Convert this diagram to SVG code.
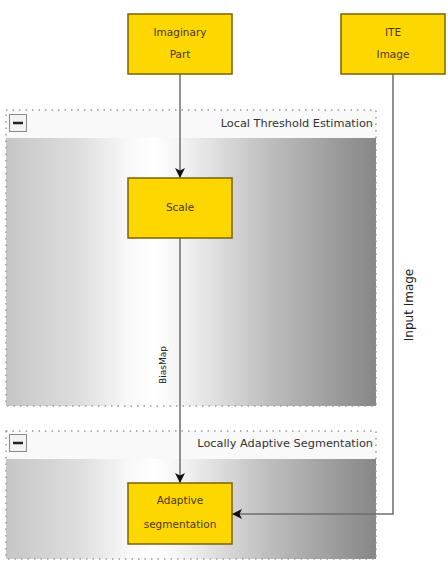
<svg xmlns="http://www.w3.org/2000/svg" width="448" height="561" viewBox="0 0 448 561">
<defs>
<linearGradient id="bg" x1="6" y1="0" x2="376" y2="0" gradientUnits="userSpaceOnUse">
<stop offset="0" stop-color="#c6c6c6"/>
<stop offset="0.2" stop-color="#dedede"/>
<stop offset="0.33" stop-color="#f8f8f8"/>
<stop offset="0.4" stop-color="#ffffff"/>
<stop offset="0.48" stop-color="#f2f2f2"/>
<stop offset="0.7" stop-color="#c0c0c0"/>
<stop offset="1" stop-color="#878787"/>
</linearGradient>
<marker id="arr" viewBox="0 0 10 10" refX="10" refY="5" markerWidth="10" markerHeight="10" markerUnits="userSpaceOnUse" orient="auto">
<path d="M0,0 L10,5 L0,10 L2.5,5 Z" fill="#111"/>
</marker>
<style>
.grp{fill:none;stroke:#9a9a9a;stroke-width:1.5;stroke-dasharray:1.5 5}
.hdr{fill:#f9f9f9}
.btn{fill:#f3f3f3;stroke:#8a8a8a;stroke-width:1}
.minus{stroke:#222;stroke-width:2.5}
.ttl{font-family:"DejaVu Sans",sans-serif;font-size:11.3px;fill:#333;text-anchor:end}
.node rect{fill:#ffd700;stroke:#7a6200;stroke-width:1.5}
.node text{font-family:"DejaVu Sans",sans-serif;font-size:10.5px;fill:#4a3800;text-anchor:middle}
.edge{fill:none;stroke:#6e6e6e;stroke-width:1.5}
.lbl{font-family:"DejaVu Sans",sans-serif;fill:#222;text-anchor:middle}
</style>
</defs>
<rect width="448" height="561" fill="#ffffff"/>
<g id="cluster-local-threshold">
<rect class="hdr" x="6" y="110" width="370" height="28"/>
<rect x="6" y="138" width="370" height="268" fill="url(#bg)"/>
<rect class="grp" x="6" y="110" width="370" height="296"/>
<rect class="btn" x="9.5" y="114.5" width="17" height="17"/>
<line class="minus" x1="13" y1="123" x2="23" y2="123"/>
<text class="ttl" x="373" y="127">Local Threshold Estimation</text>
</g>
<g id="cluster-adaptive-seg">
<rect class="hdr" x="6" y="431" width="370" height="28"/>
<rect x="6" y="459" width="370" height="100" fill="url(#bg)"/>
<rect class="grp" x="6" y="431" width="370" height="128"/>
<rect class="btn" x="9.5" y="434.5" width="17" height="17"/>
<line class="minus" x1="13" y1="443" x2="23" y2="443"/>
<text class="ttl" x="373" y="447">Locally Adaptive Segmentation</text>
</g>
<g id="connectors">
<path class="edge" d="M180,74 V178" marker-end="url(#arr)"/>
<path class="edge" d="M180,238 V483" marker-end="url(#arr)"/>
<path class="edge" d="M393,74 V514 H232" marker-end="url(#arr)"/>
<text class="lbl" font-size="9" transform="translate(166,365) rotate(-90)">BiasMap</text>
<text class="lbl" font-size="12" transform="translate(413,305) rotate(-90)">Input Image</text>
</g>
<g id="node-imaginary-part" class="node">
<rect x="128" y="14" width="104" height="60"/>
<text x="180" y="36">Imaginary</text>
<text x="180" y="58">Part</text>
</g>
<g id="node-ite-image" class="node">
<rect x="341" y="14" width="104" height="60"/>
<text x="393" y="36">ITE</text>
<text x="393" y="58">Image</text>
</g>
<g id="node-scale" class="node">
<rect x="128" y="178" width="104" height="60"/>
<text x="180" y="211">Scale</text>
</g>
<g id="node-adaptive-segmentation" class="node">
<rect x="128" y="483" width="104" height="61"/>
<text x="180" y="504">Adaptive</text>
<text x="180" y="528">segmentation</text>
</g>
</svg>
